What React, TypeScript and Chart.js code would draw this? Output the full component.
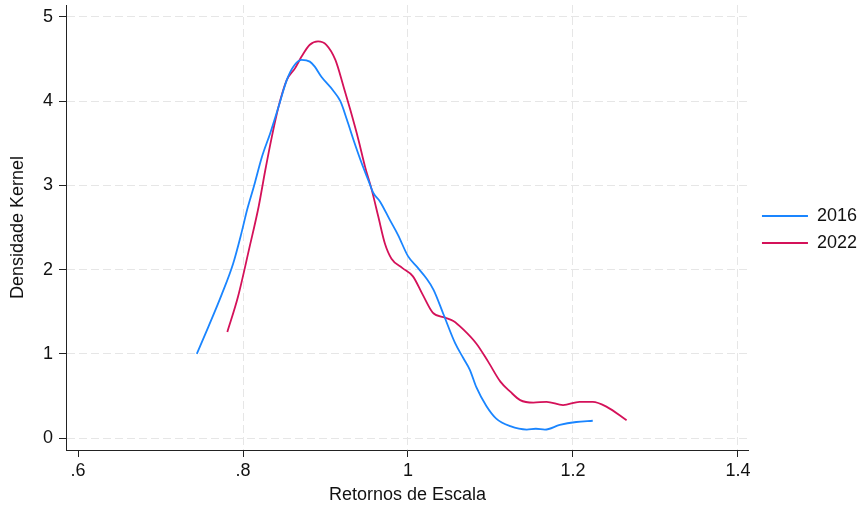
import React, { useEffect, useRef } from "react";
import { Chart, registerables } from "chart.js";

Chart.register(...registerables);

// ---- Data ----
const x2016 = [
  0.744, 0.758, 0.774, 0.788, 0.798, 0.805, 0.813, 0.823, 0.833, 0.843, 0.853,
  0.861, 0.871, 0.881, 0.887, 0.895, 0.909, 0.918, 0.926, 0.934, 0.944, 0.952,
  0.958, 0.966, 0.978, 0.988, 1.0, 1.012, 1.022, 1.031, 1.043, 1.057, 1.067,
  1.075, 1.083, 1.095, 1.107, 1.124, 1.144, 1.155, 1.166, 1.184, 1.204, 1.224,
];
const y2016 = [
  1.0, 1.32, 1.7, 2.07, 2.43, 2.71, 2.98, 3.34, 3.62, 3.93, 4.25,
  4.41, 4.49, 4.47, 4.41, 4.29, 4.13, 4.0, 3.78, 3.54, 3.26, 3.06,
  2.91, 2.81, 2.59, 2.41, 2.16, 2.02, 1.9, 1.76, 1.47, 1.13, 0.95,
  0.81, 0.6, 0.38, 0.23, 0.14, 0.1, 0.11, 0.1, 0.155, 0.19, 0.205,
];
const x2022 = [
  0.781, 0.794, 0.808, 0.819, 0.827, 0.835, 0.843, 0.853, 0.863, 0.871, 0.881,
  0.891, 0.901, 0.912, 0.922, 0.93, 0.94, 0.948, 0.956, 0.964, 0.972, 0.98,
  0.993, 1.006, 1.018, 1.03, 1.045, 1.055, 1.067, 1.083, 1.097, 1.112, 1.124,
  1.136, 1.152, 1.168, 1.188, 1.208, 1.224, 1.241, 1.265,
];
const y2022 = [
  1.26, 1.68, 2.27, 2.75, 3.18, 3.58, 3.93, 4.25, 4.39, 4.53, 4.67,
  4.71, 4.67, 4.49, 4.17, 3.9, 3.54, 3.22, 2.95, 2.63, 2.31, 2.13,
  2.02, 1.92, 1.7, 1.49, 1.43, 1.39, 1.29, 1.12, 0.91, 0.67, 0.55,
  0.45, 0.42, 0.43, 0.39, 0.43, 0.43, 0.37, 0.21,
];
const seriesLabels = ["2016", "2022"];
const xTicks = [0.6, 0.8, 1.0, 1.2, 1.4];
const xTickLabels = [".6", ".8", "1", "1.2", "1.4"];
const yTicks = [0, 1, 2, 3, 4, 5];
const yTickLabels = ["0", "1", "2", "3", "4", "5"];
const xTitle = "Retornos de Escala";
const yTitle = "Densidade Kernel";

const FONT = "'Liberation Sans', Arial, sans-serif";
const TEXT = "#111111";
const GRID = "#e6e6e6";
const AXIS = "#222222";

const zip = (xs: number[], ys: number[]) => xs.map((x, i) => ({ x, y: ys[i] }));

const legendShift = {
  id: "legendShift",
  afterLayout(chart: any) {
    const lg = chart.legend;
    if (lg) {
      lg.left += 4;
      lg.right += 4;
      lg.top -= 28;
      lg.bottom -= 28;
    }
  },
};

export default function App() {
  const ref = useRef<HTMLCanvasElement | null>(null);

  useEffect(() => {
    if (!ref.current) return;
    const chart = new Chart(ref.current, {
      type: "line",
      data: {
        datasets: [
          {
            label: seriesLabels[0],
            data: zip(x2016, y2016),
            borderColor: "#1a85ff",
            backgroundColor: "#1a85ff",
            borderWidth: 1.8,
            pointRadius: 0,
            cubicInterpolationMode: "monotone",
            fill: false,
          },
          {
            label: seriesLabels[1],
            data: zip(x2022, y2022),
            borderColor: "#d41159",
            backgroundColor: "#d41159",
            borderWidth: 1.8,
            pointRadius: 0,
            cubicInterpolationMode: "monotone",
            fill: false,
          },
        ],
      },
      options: {
        animation: false,
        responsive: false,
        maintainAspectRatio: false,
        layout: { padding: { top: 5, right: 1, bottom: 0, left: 0 } },
        plugins: {
          tooltip: { enabled: false },
          legend: {
            position: "right",
            labels: {
              usePointStyle: true,
              pointStyle: "line",
              pointStyleWidth: 46,
              padding: 9,
              color: TEXT,
              font: { family: FONT, size: 18 },
            },
          },
        },
        scales: {
          x: {
            type: "linear",
            min: 0.58543,
            max: 1.41335,
            afterBuildTicks: (axis: any) => {
              axis.ticks = xTicks.map((v) => ({ value: v }));
            },
            afterFit: (s: any) => {
              s.height = 60;
              s.paddingLeft = 0;
              s.paddingRight = 0;
            },
            ticks: {
              callback: (v: any) => {
                const i = xTicks.findIndex((t) => Math.abs(t - Number(v)) < 1e-6);
                return i >= 0 ? xTickLabels[i] : "";
              },
              color: TEXT,
              font: { family: FONT, size: 18 },
              padding: 3,
              maxRotation: 0,
              autoSkip: false,
            },
            grid: {
              color: (c: any) => (c.index === 0 ? "rgba(0,0,0,0)" : GRID),
              lineWidth: 1,
              tickColor: AXIS,
              tickLength: 7,
              tickWidth: 1,
            },
            border: { display: true, color: AXIS, width: 1, dash: [8, 4] },
            title: {
              display: true,
              text: xTitle,
              color: TEXT,
              font: { family: FONT, size: 18 },
              padding: { top: 0, bottom: 4 },
            },
          },
          y: {
            type: "linear",
            min: -0.1425,
            max: 5.1425,
            afterBuildTicks: (axis: any) => {
              axis.ticks = yTicks.map((v) => ({ value: v }));
            },
            afterFit: (s: any) => {
              s.width = 66;
              s.paddingTop = 0;
              s.paddingBottom = 0;
            },
            ticks: {
              callback: (v: any) => {
                const i = yTicks.findIndex((t) => Math.abs(t - Number(v)) < 1e-6);
                return i >= 0 ? yTickLabels[i] : "";
              },
              color: TEXT,
              font: { family: FONT, size: 18 },
              padding: 6,
              autoSkip: false,
            },
            grid: {
              color: GRID,
              lineWidth: 1,
              tickColor: AXIS,
              tickLength: 7,
              tickWidth: 1,
            },
            border: { display: true, color: AXIS, width: 1, dash: [8, 4] },
            title: {
              display: true,
              text: yTitle,
              color: TEXT,
              font: { family: FONT, size: 18 },
              padding: { top: 7, bottom: 0 },
            },
          },
        },
      },
      plugins: [legendShift],
    } as any);
    return () => chart.destroy();
  }, []);

  return (
    <div style={{ position: "fixed", left: 0, top: 0, width: 864, height: 510, background: "#fff" }}>
      <canvas ref={ref} width={864} height={510} style={{ display: "block", width: 864, height: 510 }} />
    </div>
  );
}
